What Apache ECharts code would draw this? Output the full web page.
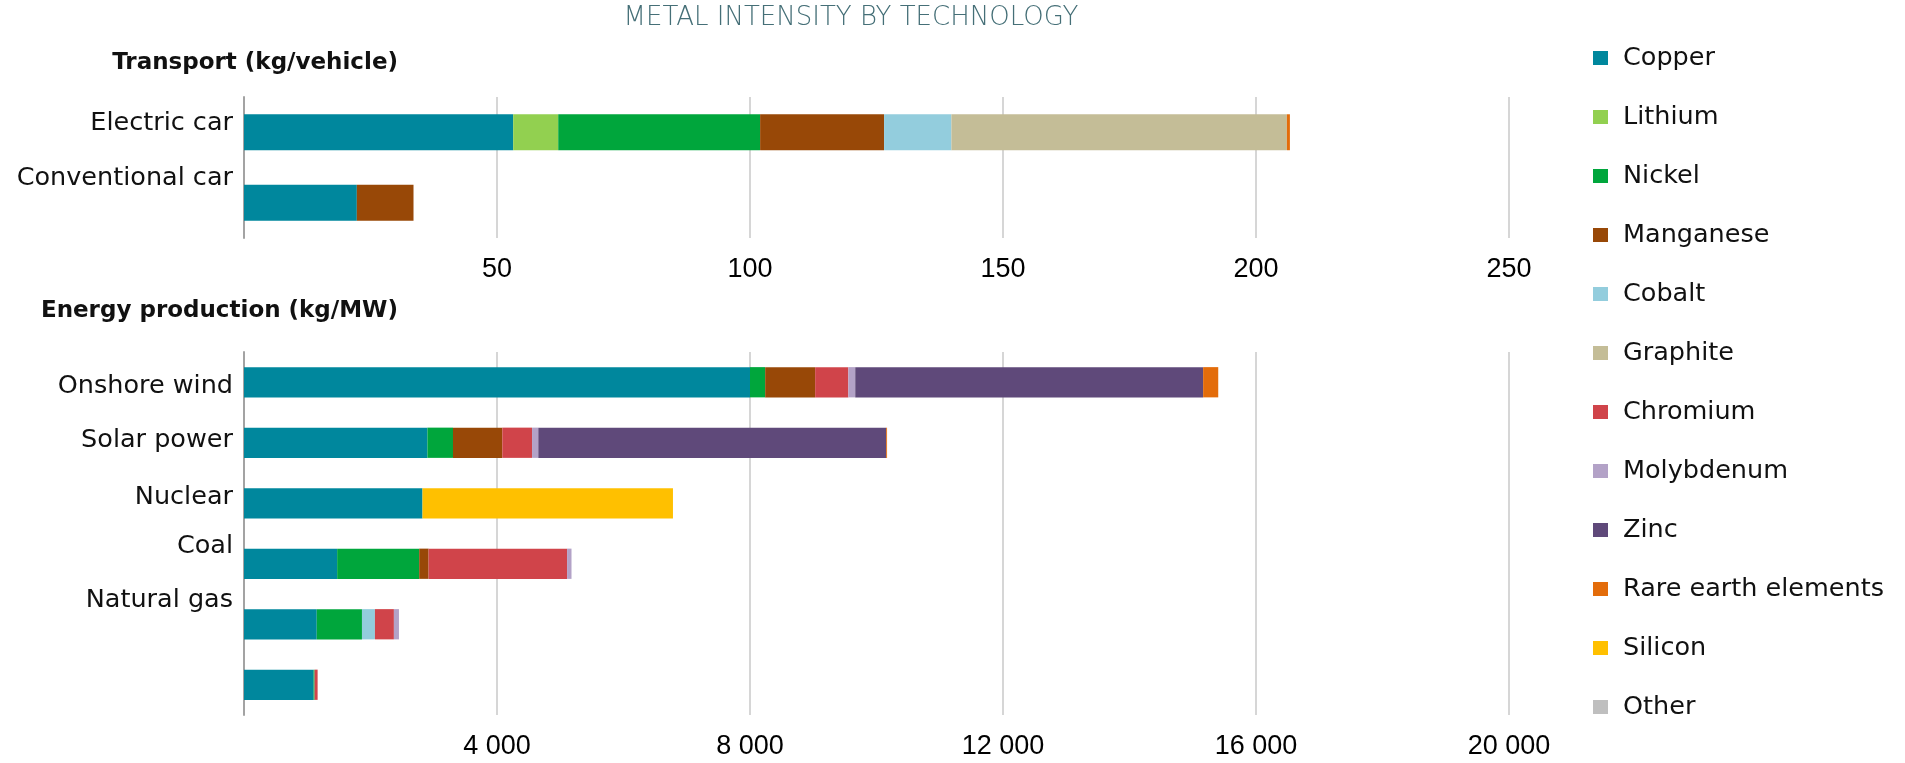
<!DOCTYPE html>
<html>
<head>
<meta charset="utf-8">
<script src="https://cdn.jsdelivr.net/npm/echarts@6/dist/echarts.min.js"></script>
<style>
  html, body { margin: 0; padding: 0; background: #fff; }
  #chart { width: 1905px; height: 763px; }
</style>
</head>
<body>
<div id="chart"></div>
<script>
var metals = ['Copper', 'Lithium', 'Nickel', 'Manganese', 'Cobalt', 'Graphite', 'Chromium', 'Molybdenum', 'Zinc', 'Rare earth elements', 'Silicon', 'Other'];
var metalColors = ['#00879d', '#92d050', '#00a63c', '#984807', '#93cddd', '#c4bd97', '#d0444a', '#b3a2c7', '#5f497a', '#e36c0a', '#ffc000', '#bfbfbf'];

var transportCats = ['Electric car', 'Conventional car'];
var energyCats = ['Onshore wind', 'Solar power', 'Nuclear', 'Coal', 'Natural gas', ''];

var transportTicks = { min: 0, max: 250, step: 50 };
var energyTicks = { min: 0, max: 20000, step: 4000 };

// kg per vehicle, one array per metal: [electric, conventional]
var tCopper = [53.2, 22.3];
var tLithium = [8.9, 0];
var tNickel = [39.9, 0];
var tManganese = [24.5, 11.2];
var tCobalt = [13.3, 0];
var tGraphite = [66.3, 0];
var tChromium = [0, 0];
var tMolybdenum = [0, 0];
var tZinc = [0, 0];
var tRare = [0.6, 0];
var tSilicon = [0, 0];
var tOther = [0, 0];

// kg per MW, one array per metal, one value per bar (top to bottom)
var eCopper = [8000, 2900, 2822, 1473, 1150, 1100];
var eLithium = [0, 0, 0, 0, 0, 0];
var eNickel = [240, 404, 0, 1297, 715, 16];
var eManganese = [790, 780, 0, 148, 0, 0];
var eCobalt = [0, 0, 0, 0, 205, 0];
var eGraphite = [0, 0, 0, 0, 0, 0];
var eChromium = [525, 470, 0, 2190, 300, 48];
var eMolybdenum = [109, 99, 0, 70, 80, 0];
var eZinc = [5500, 5500, 0, 0, 0, 0];
var eRare = [239, 14, 0, 0, 0, 0];
var eSilicon = [0, 0, 3960, 0, 0, 0];
var eOther = [0, 0, 0, 0, 0, 0];

var transportData = [tCopper, tLithium, tNickel, tManganese, tCobalt, tGraphite, tChromium, tMolybdenum, tZinc, tRare, tSilicon, tOther];
var energyData = [eCopper, eLithium, eNickel, eManganese, eCobalt, eGraphite, eChromium, eMolybdenum, eZinc, eRare, eSilicon, eOther];

// the row labels in the original sit a bit off their bars (px, negative = up)
var transportLabelShift = [-8.5, -24.5];
var energyLabelShift = [4.5, -2.5, -6, -17.5, -24, 0];

var labelFont = 'DejaVu Sans';

function shiftedRich(shifts) {
    var rich = {};
    shifts.forEach(function (d, i) {
        rich['s' + i] = {
            fontFamily: labelFont,
            fontSize: 25.5,
            color: '#111',
            padding: d < 0 ? [0, 0, -2 * d, 0] : [2 * d, 0, 0, 0]
        };
    });
    return rich;
}

function spaced(v) {
    return String(v).replace(/\B(?=(\d{3})+(?!\d))/g, ' ');
}

function xAxisFor(idx, ticks) {
    return {
        type: 'value',
        gridIndex: idx,
        min: ticks.min,
        max: ticks.max,
        interval: ticks.step,
        axisLine: { show: false },
        axisTick: { show: false },
        splitLine: { lineStyle: { color: '#d6d6d6', width: 2 } },
        axisLabel: {
            showMinLabel: false,
            margin: 18,
            fontFamily: 'Liberation Sans',
            fontSize: 27,
            color: '#000',
            formatter: spaced
        }
    };
}

function yAxisFor(idx, cats, shifts) {
    return {
        type: 'category',
        gridIndex: idx,
        data: cats,
        inverse: true,
        axisLine: { lineStyle: { color: '#a3a3a3', width: 2 } },
        axisTick: { show: false },
        axisLabel: {
            margin: 11,
            formatter: function (v, i) { return '{s' + i + '|' + v + '}'; },
            rich: shiftedRich(shifts)
        }
    };
}

var series = [];
metals.forEach(function (m, k) {
    series.push({
        name: m, type: 'bar', stack: 'transport',
        xAxisIndex: 0, yAxisIndex: 0,
        barWidth: '51%',
        itemStyle: { color: metalColors[k] },
        data: transportData[k]
    });
});
metals.forEach(function (m, k) {
    series.push({
        name: m, type: 'bar', stack: 'energy',
        xAxisIndex: 1, yAxisIndex: 1,
        barWidth: '50%',
        itemStyle: { color: metalColors[k] },
        data: energyData[k]
    });
});

var chart = echarts.init(document.getElementById('chart'));
chart.setOption({
    animation: false,
    color: metalColors,
    title: [
        {
            text: 'METAL INTENSITY BY TECHNOLOGY',
            left: 851, top: 5, textAlign: 'center', padding: 0,
            textStyle: { fontFamily: labelFont, fontWeight: 200, fontSize: 26, color: '#456f77' }
        },
        {
            text: 'Transport (kg/vehicle)',
            right: 1507, top: 52, padding: 0,
            textStyle: { fontFamily: labelFont, fontWeight: 'bold', fontSize: 23, color: '#111' }
        },
        {
            text: 'Energy production (kg/MW)',
            right: 1507, top: 300, padding: 0,
            textStyle: { fontFamily: labelFont, fontWeight: 'bold', fontSize: 23, color: '#111' }
        }
    ],
    legend: {
        orient: 'vertical',
        left: 1588, top: 40,
        icon: 'rect',
        itemWidth: 15, itemHeight: 14,
        itemGap: 33,
        data: metals,
        textStyle: { fontFamily: labelFont, fontSize: 25.5, lineHeight: 24, color: '#111', padding: [0, 0, 0, 10] }
    },
    grid: [
        { left: 244, top: 97, width: 1265, height: 141 },
        { left: 244, top: 352, width: 1265, height: 363 }
    ],
    xAxis: [xAxisFor(0, transportTicks), xAxisFor(1, energyTicks)],
    yAxis: [yAxisFor(0, transportCats, transportLabelShift), yAxisFor(1, energyCats, energyLabelShift)],
    series: series
});
</script>
</body>
</html>
